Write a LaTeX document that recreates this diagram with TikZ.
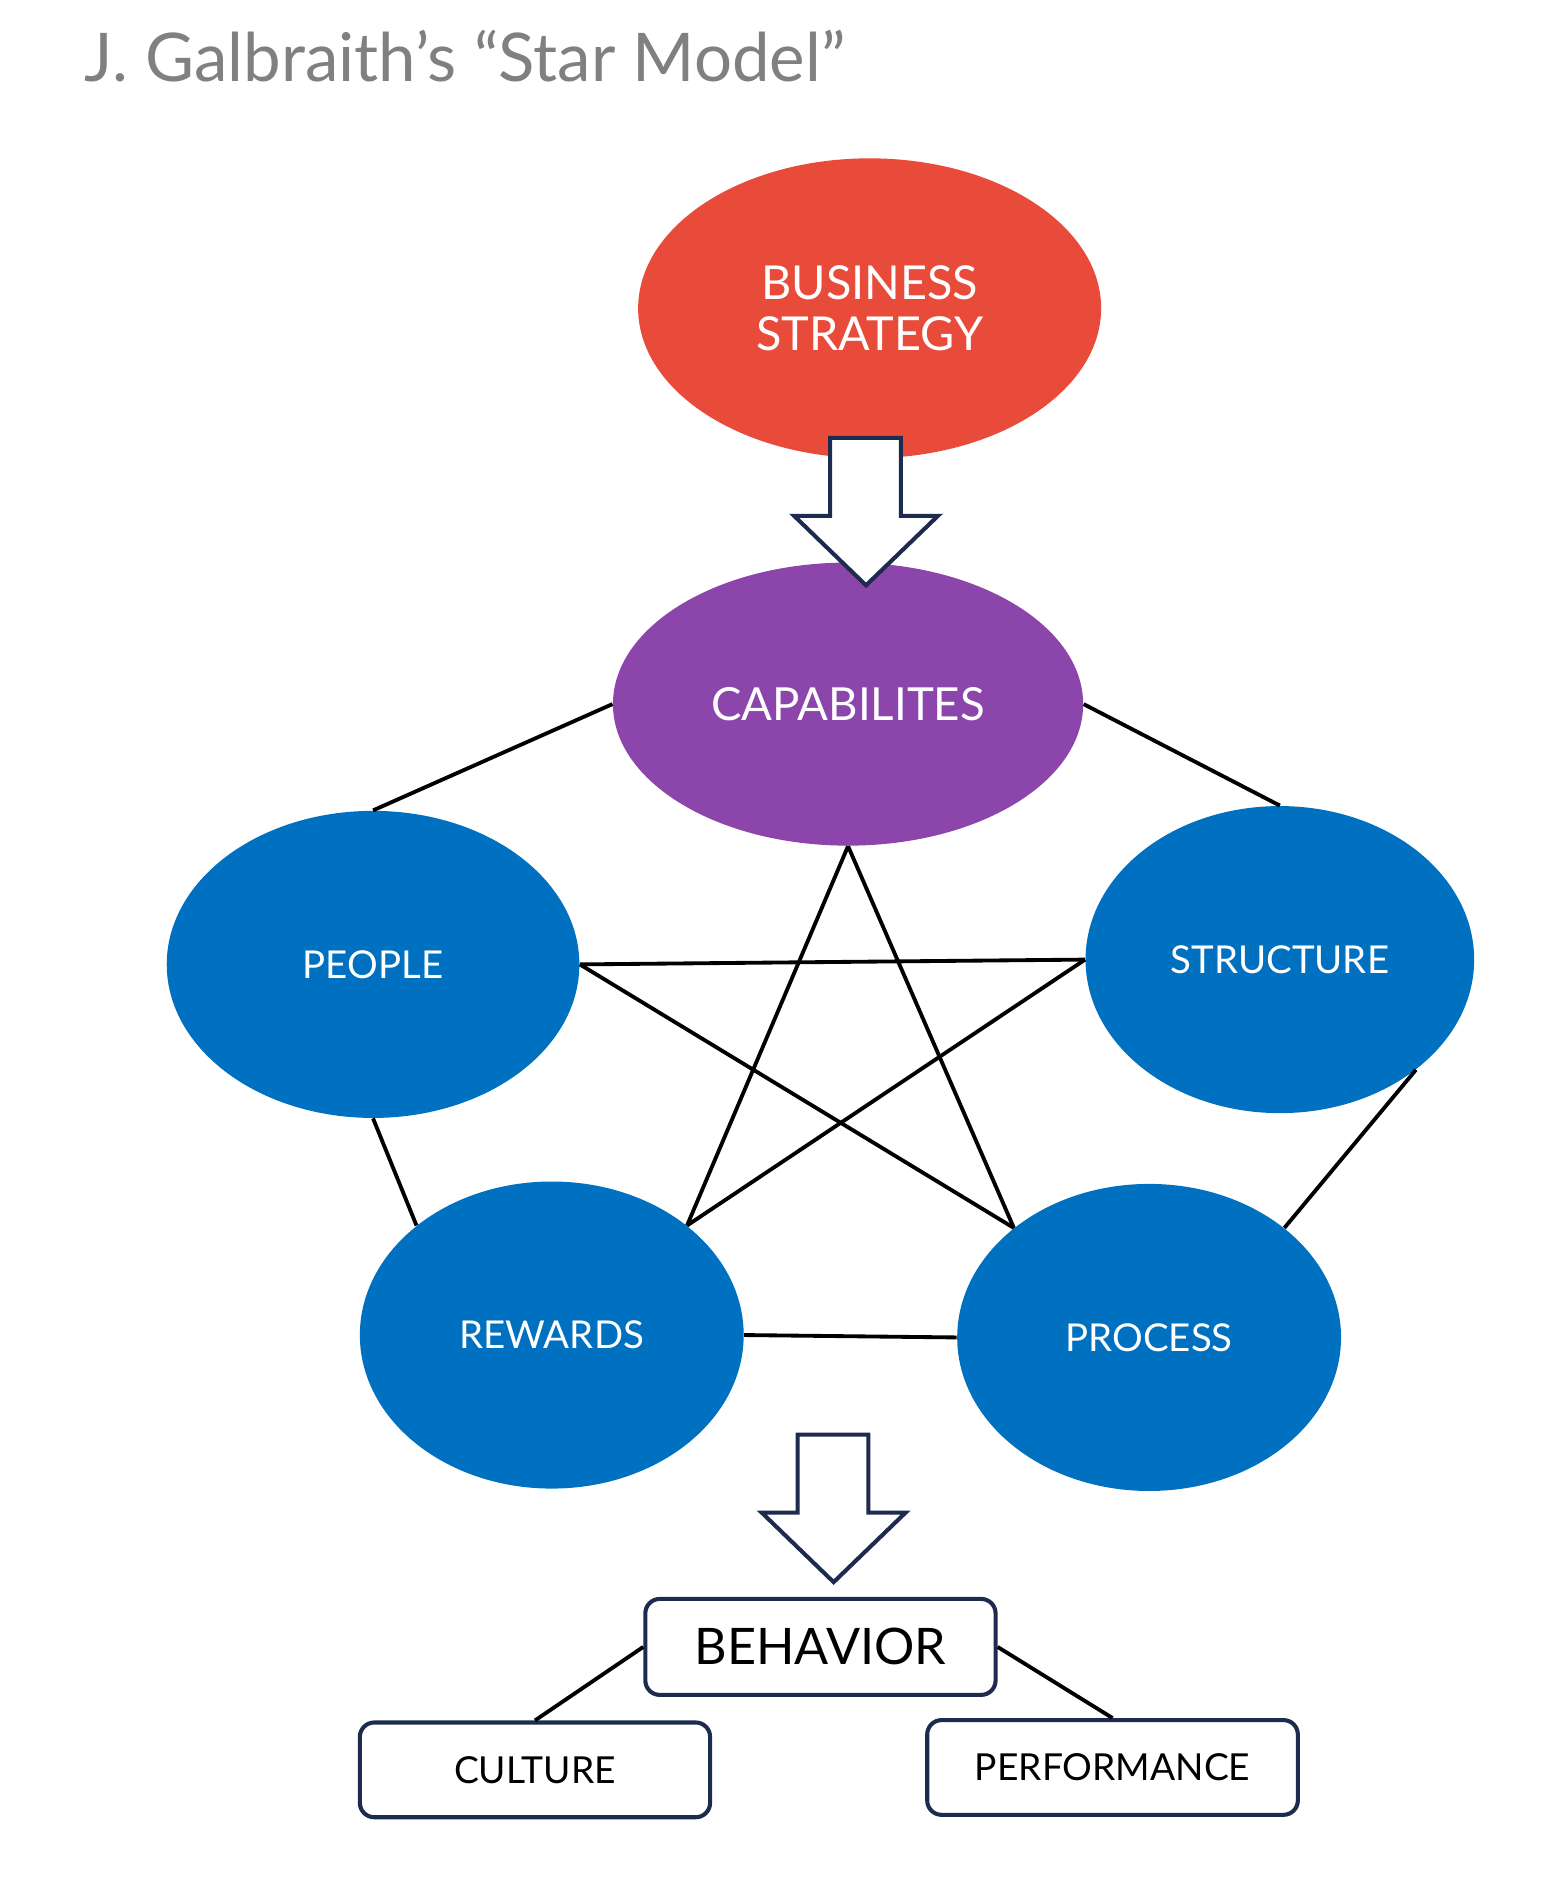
\documentclass[tikz,border=0pt]{standalone}
\usepackage{fontspec}
\setmainfont{Lato}
\usetikzlibrary{shapes.geometric}
\definecolor{bsred}{HTML}{E84B3A}
\definecolor{cappurple}{HTML}{8B45AB}
\definecolor{starblue}{HTML}{0070C0}
\definecolor{navy}{HTML}{1C2B4E}
\definecolor{titlegray}{HTML}{808080}
\tikzset{
  oval/.style={ellipse, inner sep=0pt, text=white, align=center},
  smalloval/.style={oval, fill=starblue, font=\fontsize{16}{19}\selectfont},
  link/.style={draw=black, line width=1.6pt},
  box/.style={draw=navy, line width=1.7pt, rounded corners=6pt, fill=white, inner sep=0pt, text=black},
  blockarrow/.style={draw=navy, fill=white, line width=1.7pt, line join=miter}
}
\begin{document}
\begin{tikzpicture}[x=0.5pt, y=-0.5pt]
\useasboundingbox (0,0) rectangle (1307,1569);
\node[anchor=base west, text=titlegray, font=\fontsize{28}{32}\selectfont, inner sep=0pt] (title) at (70,68) {J. Galbraith’s “Star Model”};

\node[oval, fill=bsred, minimum width=193pt, minimum height=125pt, font=\fontsize{19.5}{21.5}\selectfont] (bs) at (725,257) {BUSINESS\\STRATEGY};
\node[oval, fill=cappurple, minimum width=196pt, minimum height=118pt, font=\fontsize{19}{23}\selectfont] (cap) at (707,587) {CAPABILITES};
\node[smalloval, minimum width=172pt, minimum height=128pt] (people) at (311,804) {PEOPLE};
\node[smalloval, minimum width=162pt, minimum height=128pt] (structure) at (1067,800) {STRUCTURE};
\node[smalloval, minimum width=160pt, minimum height=128pt] (rewards) at (460,1113) {REWARDS};
\node[smalloval, minimum width=160pt, minimum height=128pt] (process) at (958,1115) {PROCESS};

\draw[link] (cap.180) -- (people.90);
\draw[link] (cap.0) -- (structure.90);
\draw[link] (people.270) -- (rewards.141);
\draw[link] (structure.-39) -- (process.39);
\draw[link] (rewards.0) -- (process.180);
\draw[link] (people.0) -- (structure.180);
\draw[link] (people.0) -- (process.141);
\draw[link] (cap.270) -- (rewards.39);
\draw[link] (cap.270) -- (process.141);
\draw[link] (structure.180) -- (rewards.39);

% block arrows
\draw[blockarrow] (692,365) -- (751,365) -- (751,430) -- (782,430) -- (722,488) -- (662,430) -- (692,430) -- cycle;
\draw[blockarrow] (665,1196) -- (724,1196) -- (724,1261) -- (755,1261) -- (695,1319) -- (635,1261) -- (665,1261) -- cycle;

\node[box, minimum width=146pt, minimum height=40pt, font=\fontsize{21}{24}\selectfont] (behavior) at (684,1373) {BEHAVIOR};
\node[box, minimum width=146pt, minimum height=39.5pt, font=\fontsize{15.5}{18}\selectfont] (culture) at (446,1475.5) {CULTURE};
\node[box, minimum width=154.5pt, minimum height=39.5pt, font=\fontsize{15.5}{18}\selectfont] (performance) at (927.5,1473.5) {PERFORMANCE};
\draw[link] (behavior.west) -- (culture.north);
\draw[link] (behavior.east) -- (performance.north);
\end{tikzpicture}
\end{document}
